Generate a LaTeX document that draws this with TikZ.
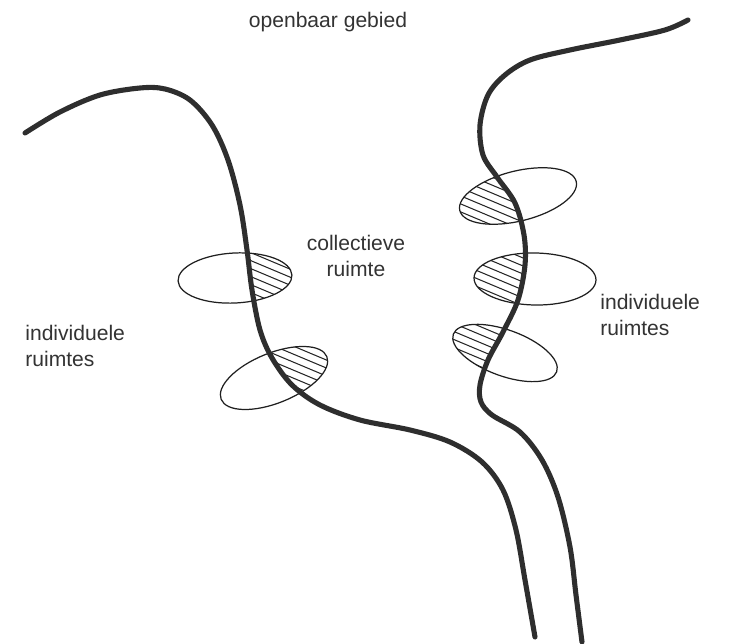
\documentclass[tikz,border=0pt]{standalone}
\usepackage{fontspec}
\setmainfont{Liberation Sans}
\usetikzlibrary{positioning}
\tikzset{
wall/.style={line width=2.9pt,draw=black!82,line cap=round,line join=round},
room/.style={line width=0.7pt,draw=black!88},
hatchline/.style={line width=0.6pt,draw=black!85},
tag/.style={font=\fontsize{12}{14.5}\selectfont,text=black!80,align=center,inner sep=0pt}
}
\newcommand{\leftwall}{plot[smooth,tension=0.55] coordinates {(25,133) (60,112) (100,95) (140,88) (165,89) (190,100) (212,125) (228,160) (240,205) (247,250) (252,290) (260,330) (272,358) (292,385) (320,405) (360,420) (410,430) (450,442) (482,462) (503,490) (516,530) (525,580) (535,637)}}
\newcommand{\rightwall}{plot[smooth,tension=0.55] coordinates {(688,20) (665,30) (620,40) (570,50) (530,60) (505,75) (488,95) (480,125) (483,155) (497,177) (515,203) (524,235) (525,265) (518,300) (503,332) (488,360) (480,385) (481,402) (492,415) (520,432) (542,460) (558,497) (570,547) (576,595) (582,642)}}
% cx, cy, rx, ry, rotation, clip region
\newcommand{\hatchroom}[6]{%
  \begin{scope}
    \clip[rotate around={#5:(#1,#2)}] (#1,#2) ellipse [x radius=#3, y radius=#4];
    \clip #6;
    \foreach \d in {-136,-128,...,136}
      \draw[hatchline] (#1-100,#2+\d-42) -- (#1+100,#2+\d+42);
  \end{scope}
  \draw[room,rotate around={#5:(#1,#2)}] (#1,#2) ellipse [x radius=#3, y radius=#4];
}
\begin{document}
\begin{tikzpicture}[x=0.02cm,y=-0.02cm]
\useasboundingbox (0,0) rectangle (731,644);

% rooms along the left wall
\hatchroom{235}{278}{57}{25}{3}{\leftwall -- (731,644) -- (731,0) -- (0,0) -- cycle}
\hatchroom{274}{378}{57}{25}{22}{\leftwall -- (731,644) -- (731,0) -- (0,0) -- cycle}
% rooms along the right wall
\hatchroom{518}{196}{60}{25}{14}{\rightwall -- (0,644) -- (0,0) -- cycle}
\hatchroom{535}{279}{61}{26}{-1}{\rightwall -- (0,644) -- (0,0) -- cycle}
\hatchroom{505}{353}{55}{23}{-20}{\rightwall -- (0,644) -- (0,0) -- cycle}

\draw[wall] \leftwall;
\draw[wall] \rightwall;

\node[tag] (open) at (328,22) {openbaar gebied};
\node[tag] (coll) at (356,256) {collectieve\\ruimte};
\node[tag,align=left,anchor=west] (indl) at (25,346) {individuele\\ruimtes};
\node[tag,align=left,anchor=west] (indr) at (600,315) {individuele\\ruimtes};
\end{tikzpicture}
\end{document}
